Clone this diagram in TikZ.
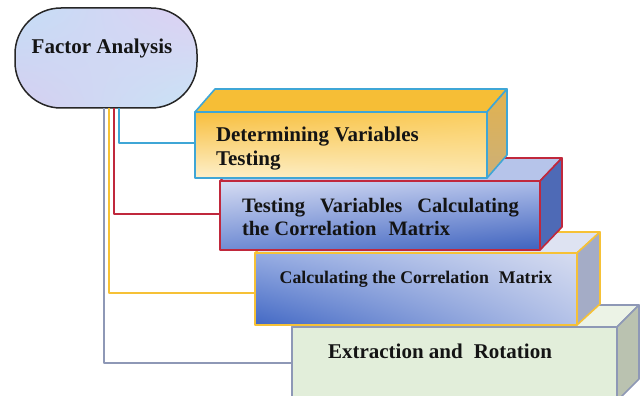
\documentclass[tikz,border=0pt]{standalone}
\usepackage{fontspec}
\setmainfont{Liberation Serif}
\usetikzlibrary{shadings}
\definecolor{cblue}{HTML}{3FA6D6}
\definecolor{cred}{HTML}{C0283C}
\definecolor{cyel}{HTML}{F6C136}
\definecolor{cgray}{HTML}{8E98B6}
\definecolor{txt}{HTML}{141414}
% Factor Analysis fill
\definecolor{faUL}{HTML}{C4DEF6}
\definecolor{faUR}{HTML}{DED0F2}
\definecolor{faLL}{HTML}{D6CEF0}
\definecolor{faLR}{HTML}{C8E4F6}
% box 4
\definecolor{fFour}{HTML}{E2EEDA}
\definecolor{tFour}{HTML}{ECF3E6}
\definecolor{rFour}{HTML}{BAC2B0}
% box 3
\definecolor{thUL}{HTML}{96ACE2}
\definecolor{thUR}{HTML}{D6DCF0}
\definecolor{thLL}{HTML}{4268C4}
\definecolor{thLR}{HTML}{B4C2E8}
\definecolor{tThree}{HTML}{DEE3F2}
\definecolor{rThree}{HTML}{A4ACC6}
% box 2
\definecolor{twUL}{HTML}{D6DCF2}
\definecolor{twUR}{HTML}{ACBCE8}
\definecolor{twLL}{HTML}{708CD4}
\definecolor{twLR}{HTML}{3E62BE}
\definecolor{tTwo}{HTML}{B6C4EA}
\definecolor{rTwo}{HTML}{4E6AB6}
% box 1
\definecolor{onUL}{HTML}{F8BE3C}
\definecolor{onUR}{HTML}{FACE60}
\definecolor{onLL}{HTML}{FDF0CC}
\definecolor{onLR}{HTML}{FCE8B2}
\definecolor{tOne}{HTML}{F6BE36}
\definecolor{rOneT}{HTML}{E2B24E}
\definecolor{rOneB}{HTML}{CCB078}
\begin{document}
\begin{tikzpicture}[x=1pt,y=-1pt,line join=round,
  front/.style={rectangle,inner sep=0pt,outer sep=0pt,line width=1.6pt},
  face/.style={line width=1.6pt},
  lbl/.style={inner sep=0pt,outer sep=0pt,font=\bfseries,text=txt},
  conn/.style={line width=1.4pt}]
\useasboundingbox (0,0) rectangle (641,396);

% ---- Factor Analysis
\shade[rounded corners=46pt,upper left=faUL,upper right=faUR,lower left=faLL,lower right=faLR]
  (15,8) rectangle (197,108);
\node[rectangle,rounded corners=46pt,minimum width=182pt,minimum height=100pt,
  draw=black!85,line width=1.5pt,inner sep=0pt,outer sep=0pt] (fa) at (106,58) {};
\node[lbl,font=\fontsize{21}{22}\selectfont\bfseries] (fat) at (102,48) {Factor Analysis};

% ---- Box 4: Extraction and Rotation
\node[front,minimum width=325pt,minimum height=74pt,draw=cgray,fill=fFour] (b4) at (454.5,364) {};
\filldraw[face,draw=cgray,fill=tFour] (b4.north west) -- ++(22,-22) -- ([shift={(22,-22)}]b4.north east) -- (b4.north east) -- cycle;
\filldraw[face,draw=cgray,fill=rFour] (b4.north east) -- ++(22,-22) -- ([shift={(22,-22)}]b4.south east) -- (b4.south east) -- cycle;
\node[lbl,font=\fontsize{21}{23}\selectfont\bfseries,anchor=base] (t4) at (440,358) {Extraction and\hspace{11pt}Rotation};

% ---- Box 3: Calculating the Correlation Matrix
\shade[upper left=thUL,upper right=thUR,lower left=thLL,lower right=thLR] (255,253) rectangle (577,325);
\node[front,minimum width=322pt,minimum height=72pt,draw=cyel] (b3) at (416,289) {};
\filldraw[face,draw=cyel,fill=tThree] (b3.north west) -- ++(23,-21) -- ([shift={(23,-21)}]b3.north east) -- (b3.north east) -- cycle;
\filldraw[face,draw=cyel,fill=rThree] (b3.north east) -- ++(23,-21) -- ([shift={(23,-21)}]b3.south east) -- (b3.south east) -- cycle;
\node[lbl,font=\fontsize{17.8}{19}\selectfont\bfseries,anchor=base] (t3) at (416,283) {Calculating the Correlation\hspace{10pt}Matrix};

% ---- Box 2: Testing Variables Calculating the Correlation Matrix
\shade[upper left=twUL,upper right=twUR,lower left=twLL,lower right=twLR] (220,181) rectangle (540,250);
\node[front,minimum width=320pt,minimum height=69pt,draw=cred] (b2) at (380,215.5) {};
\filldraw[face,draw=cred,fill=tTwo] (b2.north west) -- ++(22,-23) -- ([shift={(22,-23)}]b2.north east) -- (b2.north east) -- cycle;
\filldraw[face,draw=cred,fill=rTwo] (b2.north east) -- ++(22,-23) -- ([shift={(22,-23)}]b2.south east) -- (b2.south east) -- cycle;
\node[lbl,font=\fontsize{20.5}{23}\selectfont\bfseries,anchor=base west] (t2a) at (242,212) {Testing\hspace{15pt}Variables\hspace{15pt}Calculating};
\node[lbl,font=\fontsize{20.5}{23}\selectfont\bfseries,anchor=base west] (t2b) at (242,235) {the Correlation\hspace{12pt}Matrix};

% ---- Box 1: Determining Variables Testing
\shade[upper left=onUL,upper right=onUR,lower left=onLL,lower right=onLR] (195,112) rectangle (487,178);
\node[front,minimum width=292pt,minimum height=66pt,draw=cblue] (b1) at (341,145) {};
\filldraw[face,draw=cblue,fill=tOne] (b1.north west) -- ++(20,-23) -- ([shift={(20,-23)}]b1.north east) -- (b1.north east) -- cycle;
\shade[top color=rOneT,bottom color=rOneB] (b1.north east) -- ++(20,-23) -- ([shift={(20,-23)}]b1.south east) -- (b1.south east) -- cycle;
\draw[face,draw=cblue] (b1.north east) -- ++(20,-23) -- ([shift={(20,-23)}]b1.south east) -- (b1.south east) -- cycle;
\node[lbl,font=\fontsize{21}{23}\selectfont\bfseries,anchor=base west] (t1a) at (216,142) {Determining Variables};
\node[lbl,font=\fontsize{21}{23}\selectfont\bfseries,anchor=base west] (t1b) at (216,165) {Testing};

% ---- connectors
\draw[conn,cblue] ([xshift=13pt]fa.south) |- ([yshift=2pt]b1.west);
\draw[conn,cred] ([xshift=8pt]fa.south) |- ([yshift=1.5pt]b2.west);
\draw[conn,cyel] ([xshift=3pt]fa.south) |- ([yshift=-4pt]b3.west);
\draw[conn,cgray] ([xshift=-2pt]fa.south) |- ([yshift=1pt]b4.west);
\end{tikzpicture}
\end{document}
